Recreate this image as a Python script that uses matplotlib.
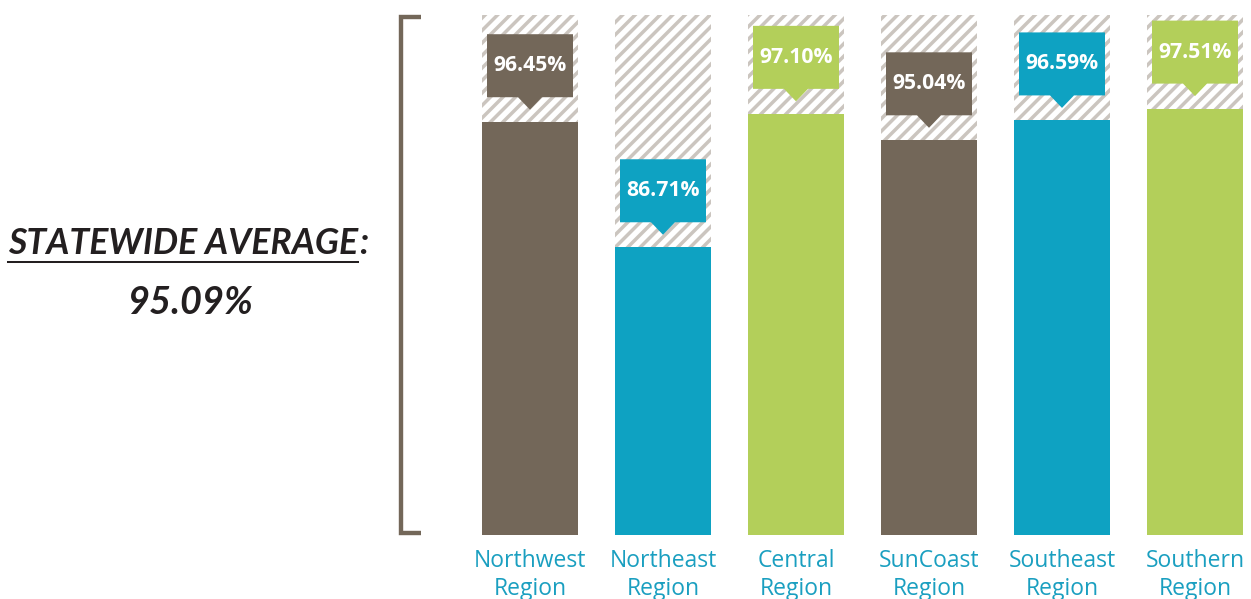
import matplotlib
matplotlib.use("Agg")
import numpy as np
import matplotlib.pyplot as plt
from matplotlib.patches import Polygon
from matplotlib.lines import Line2D
from matplotlib.collections import LineCollection
from matplotlib.transforms import IdentityTransform

# Data
regions = ["Northwest\nRegion", "Northeast\nRegion", "Central\nRegion",
           "SunCoast\nRegion", "Southeast\nRegion", "Southern\nRegion"]
rates = [96.45, 86.71, 97.10, 95.04, 96.59, 97.51]
statewide_average = 95.09

BROWN = "#736759"
BLUE = "#0ea2c2"
GREEN = "#b3cf5a"
bar_colors = [BROWN, BLUE, GREEN, BROWN, BLUE, GREEN]
LABEL_BLUE = "#1a9fc0"
HATCH_GRAY = "#cbc5bf"
TEXT_DARK = "#231f20"

DPI = 132
W_PX, H_PX = 1251, 599

fig = plt.figure(figsize=(W_PX / DPI, H_PX / DPI), dpi=DPI)
fig.patch.set_facecolor("white")

# axes placed in pixel terms
ax_left, ax_right = 463.5, 1261.5
ax_top, ax_bottom = 15, 535
ax = fig.add_axes([ax_left / W_PX, (H_PX - ax_bottom) / H_PX,
                   (ax_right - ax_left) / W_PX, (ax_bottom - ax_top) / H_PX])
y_floor, y_ceil = 64.3, 104.8
ax.set_xlim(-0.5, 5.5)
ax.set_ylim(y_floor, y_ceil)
ax.axis("off")

n = len(rates)
xs = list(range(n))
bar_w = 0.72

# white track behind each bar, later striped
tracks = ax.bar(xs, [y_ceil - y_floor] * n, bottom=y_floor, width=bar_w,
                facecolor="white", linewidth=0, zorder=1)
# value bars
ax.bar(xs, [r - y_floor for r in rates], bottom=y_floor, width=bar_w,
       color=bar_colors, linewidth=0, zorder=2)

# diagonal stripes, clipped to each track (pixel space)
stripe_step = 12.5
offsets = np.arange(-H_PX, W_PX + H_PX, stripe_step)
segs = [[(o, 0), (o + H_PX, H_PX)] for o in offsets]
for patch in tracks.patches:
    lc = LineCollection(segs, colors=HATCH_GRAY, linewidths=1.9,
                        transform=IdentityTransform(), zorder=1.5)
    ax.add_collection(lc, autolim=False)
    lc.set_clip_path(patch)

# callout boxes with pointer
px_per_unit_y = (ax_bottom - ax_top) / (y_ceil - y_floor)
px_per_unit_x = (ax_right - ax_left) / 6.0
gap = 25 / px_per_unit_y
box_h = 63 / px_per_unit_y
tip_gap = 12.5 / px_per_unit_y
half_w = 43 / px_per_unit_x
half_tri = 12 / px_per_unit_x
for x, r, c in zip(xs, rates, bar_colors):
    yb = r + gap
    yt = yb + box_h
    pts = [(x - half_w, yb), (x - half_tri, yb), (x, r + tip_gap),
           (x + half_tri, yb), (x + half_w, yb), (x + half_w, yt),
           (x - half_w, yt)]
    ax.add_patch(Polygon(pts, closed=True, facecolor=c, edgecolor="none",
                         zorder=3, clip_on=False))
    ax.text(x, (yb + yt) / 2, f"{r:.2f}%", color="white", ha="center",
            va="center", fontsize=11.5, fontweight="bold",
            family="Open Sans", zorder=4)

# category labels beneath bars
for x, lab in zip(xs, regions):
    ax.text(x, y_floor - 14 / px_per_unit_y, lab, color=LABEL_BLUE,
            ha="center", va="top", fontsize=12.5, family="Open Sans",
            linespacing=1.25)

# bracket on the left
def fx(px):
    return px / W_PX

def fy(py):
    return (H_PX - py) / H_PX

bx, btop, bbot, barm = 400.5, 17, 533, 421
fig.add_artist(Line2D([fx(barm), fx(bx), fx(bx), fx(barm)],
                      [fy(btop), fy(btop), fy(bbot), fy(bbot)],
                      color=BROWN, linewidth=2.4, solid_joinstyle="miter",
                      solid_capstyle="butt"))

# statewide average caption
title_font = dict(family=["Lato", "DejaVu Sans"],
                  fontweight="bold", fontstyle="italic", color=TEXT_DARK,
                  fontsize=21)
t_main = fig.text(fx(8), fy(243), "STATEWIDE AVERAGE", ha="left",
                  va="center", **title_font)
colon = fig.text(0, fy(243), ":", ha="left", va="center", **title_font)
avg = fig.text(fx(190), fy(303), f"{statewide_average:.2f}%", ha="center",
               va="center", **title_font)

# size the caption so that it spans the left panel
fig.canvas.draw()
renderer = fig.canvas.get_renderer()
target_w = 360.0
w_now = t_main.get_window_extent(renderer).width + \
    colon.get_window_extent(renderer).width
scale = target_w / w_now
for t in (t_main, colon):
    t.set_fontsize(21 * scale)
avg.set_fontsize(21 * scale * 1.06)
fig.canvas.draw()
bb = t_main.get_window_extent(renderer)
colon.set_x(bb.x1 / W_PX + 0.001)
fig.add_artist(Line2D([bb.x0 / W_PX, bb.x1 / W_PX], [fy(262), fy(262)],
                      color=TEXT_DARK, linewidth=1.1))

fig.savefig("out.png", dpi=DPI, facecolor="white")
